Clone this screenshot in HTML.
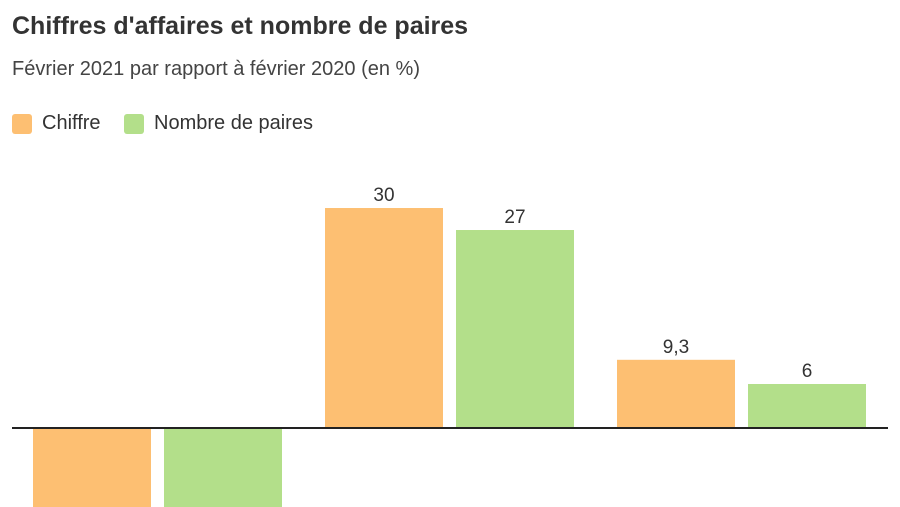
<!DOCTYPE html>
<html><head><meta charset="utf-8"><style>
body{margin:0;width:900px;height:507px;overflow:hidden;background:#fff;font-family:"Liberation Sans",sans-serif;color:#333}
h1{position:absolute;left:12px;top:12px;margin:0;font-size:25px;font-weight:bold;color:#333}
.sub{position:absolute;left:12px;top:58px;font-size:20px;color:#444}
.leg{position:absolute;top:112px;font-size:20px;color:#333;display:flex;align-items:center}
.sw{width:20px;height:20px;border-radius:3px;margin-right:10px}
svg{position:absolute;left:0;top:0}
</style></head><body>
<h1>Chiffres d'affaires et nombre de paires</h1>
<div class="sub">Février 2021 par rapport à février 2020 (en %)</div>
<div class="leg" style="left:12px"><div class="sw" style="background:#fdbf72"></div>Chiffre</div>
<div class="leg" style="left:124px"><div class="sw" style="background:#b3df8a"></div>Nombre de paires</div>
<svg id="chart" width="900" height="507"></svg>
<script>
const categories=["Groupe 1","Groupe 2","Groupe 3"];
const chiffre=[-11,30,9.3];
const paires=[-11,27,6];
const labels1=["","30","9,3"];
const labels2=["","27","6"];
const svg=document.getElementById('chart');
const NS="http://www.w3.org/2000/svg";
const y0=428, k=7.333;
function y(v){return y0-v*k;}
function x(i){return 33+i*292;}
const bw=118;
function bar(i,v,off,color,lab,name){
  const r=document.createElementNS(NS,'rect');
  
  
  const top=Math.min(y(v),y0+1), h=Math.abs(y(v)-y0);
  r.setAttribute('x',x(i)+off);r.setAttribute('y',v>=0?y(v):y0+1);
  r.setAttribute('width',bw);r.setAttribute('height',h);r.setAttribute('fill',color);
  svg.appendChild(r);
  if(lab){
    const t=document.createElementNS(NS,'text');
    
    
    t.setAttribute('x',x(i)+off+bw/2);t.setAttribute('y',y(v)-7);
    t.setAttribute('text-anchor','middle');t.setAttribute('font-size','19');t.setAttribute('fill','#333');
    t.textContent=lab;svg.appendChild(t);
  }
}
categories.forEach((c,i)=>{
  bar(i,chiffre[i],0,'#fdbf72',labels1[i],'bar-chiffre-'+(i+1));
  bar(i,paires[i],131,'#b3df8a',labels2[i],'bar-paires-'+(i+1));
});
const l=document.createElementNS(NS,'line');


l.setAttribute('x1',12);l.setAttribute('x2',888);l.setAttribute('y1',y0);l.setAttribute('y2',y0);
l.setAttribute('stroke','#222');l.setAttribute('stroke-width','2');
svg.appendChild(l);
</script>
</body></html>
